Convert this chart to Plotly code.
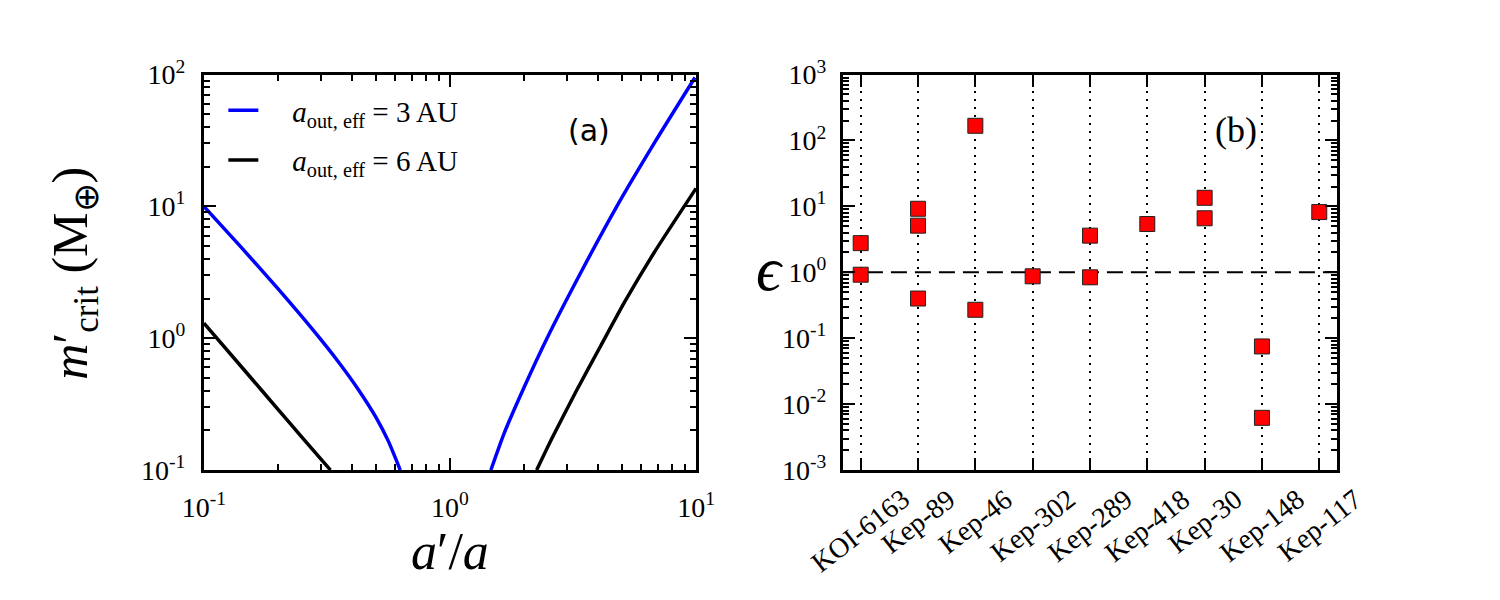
import plotly.graph_objects as go

# ---------------- data: panel (a) ----------------
blue_low_x = [0.10, 0.1413, 0.1995, 0.2818, 0.3548, 0.4266, 0.5012, 0.5623, 0.628]
blue_low_y = [10.0, 4.93, 2.385, 1.116, 0.649, 0.402, 0.250, 0.165, 0.10]
blue_high_x = [1.466, 1.66, 2.01, 2.48, 3.39, 4.74, 6.83, 9.9]
blue_high_y = [0.10, 0.19, 0.432, 1.0, 3.11, 9.84, 31.1, 95.0]

black_low_x = [0.10, 0.15, 0.20, 0.25, 0.327]
black_low_y = [1.30, 0.54, 0.289, 0.178, 0.10]
black_high_x = [2.25, 2.60, 3.26, 4.10, 5.14, 6.76, 10.0]
black_high_y = [0.10, 0.175, 0.398, 0.877, 1.90, 4.47, 13.7]

legend_labels = ["\u2002\u2002<i>a</i><sub>out, eff</sub> = 3 AU",
                 "\u2002\u2002<i>a</i><sub>out, eff</sub> = 6 AU"]

# ---------------- data: panel (b) ----------------
systems = ["KOI-6163", "Kep-89", "Kep-46", "Kep-302", "Kep-289",
           "Kep-418", "Kep-30", "Kep-148", "Kep-117"]
pt_system = ["KOI-6163", "KOI-6163", "Kep-89", "Kep-89", "Kep-89",
             "Kep-46", "Kep-46", "Kep-302", "Kep-289", "Kep-289",
             "Kep-418", "Kep-30", "Kep-30", "Kep-148", "Kep-148", "Kep-117"]
pt_eps = [2.77, 0.92, 9.2, 5.1, 0.40,
          167.0, 0.27, 0.87, 3.6, 0.84,
          5.4, 13.5, 6.6, 0.075, 0.0062, 8.2]

x_ticks_a = [0.1, 1, 10]
x_ticktext_a = ["10<sup>-1</sup>", "10<sup>0</sup>", "10<sup>1</sup>"]
y_ticks_a = [0.1, 1, 10, 100]
y_ticktext_a = ["10<sup>-1</sup>", "10<sup>0</sup>", "10<sup>1</sup>", "10<sup>2</sup>"]
y_ticks_b = [1e-3, 1e-2, 1e-1, 1, 10, 100, 1000]
y_ticktext_b = ["10<sup>-3</sup>", "10<sup>-2</sup>", "10<sup>-1</sup>", "10<sup>0</sup>",
                "10<sup>1</sup>", "10<sup>2</sup>", "10<sup>3</sup>"]

SERIF = "Liberation Serif"
W, H = 1500, 600


def minor_vals(lo, hi):
    out = []
    for e in range(lo, hi):
        for m in range(2, 10):
            out.append(m * 10 ** e)
    return out


fig = go.Figure()

line_kw = dict(width=3.5, shape="spline", smoothing=0.6)
fig.add_trace(go.Scatter(x=blue_low_x, y=blue_low_y, mode="lines",
                         line=dict(color="#0000ff", **line_kw),
                         name=legend_labels[0], legendgroup="blue", showlegend=True,
                         xaxis="x", yaxis="y"))
fig.add_trace(go.Scatter(x=blue_high_x, y=blue_high_y, mode="lines",
                         line=dict(color="#0000ff", **line_kw),
                         name=legend_labels[0], legendgroup="blue", showlegend=False,
                         xaxis="x", yaxis="y"))
fig.add_trace(go.Scatter(x=black_low_x, y=black_low_y, mode="lines",
                         line=dict(color="black", **line_kw),
                         name=legend_labels[1], legendgroup="black", showlegend=True,
                         xaxis="x", yaxis="y"))
fig.add_trace(go.Scatter(x=black_high_x, y=black_high_y, mode="lines",
                         line=dict(color="black", **line_kw),
                         name=legend_labels[1], legendgroup="black", showlegend=False,
                         xaxis="x", yaxis="y"))

fig.add_trace(go.Scatter(x=pt_system, y=pt_eps, mode="markers",
                         marker=dict(symbol="square", size=15, color="#ff0000",
                                     line=dict(color="#222222", width=1)),
                         showlegend=False, xaxis="x2", yaxis="y2"))

common = dict(ticks="inside", ticklen=12, tickwidth=2, tickcolor="black",
              showline=True, linewidth=3, linecolor="black", mirror="allticks",
              zeroline=False, tickfont=dict(family=SERIF, size=28, color="black"))

fig.update_layout(
    width=W, height=H, margin=dict(l=0, r=0, t=0, b=0),
    paper_bgcolor="white", plot_bgcolor="white",
    xaxis=dict(type="log", domain=[187 / W, 693 / W], range=[-1, 1], anchor="y",
               tickmode="array", tickvals=x_ticks_a, ticktext=x_ticktext_a,
               showgrid=False, ticklabelstandoff=10,
               minor=dict(tickmode="array", tickvals=minor_vals(-1, 1), ticks="inside",
                          ticklen=6, tickwidth=2, tickcolor="black", showgrid=False),
               **common),
    yaxis=dict(type="log", domain=[1 - 479 / H, 1 - 59 / H], range=[-1, 2], anchor="x",
               tickmode="array", tickvals=y_ticks_a, ticktext=y_ticktext_a,
               showgrid=False, ticklabelstandoff=10,
               minor=dict(tickmode="array", tickvals=minor_vals(-1, 2), ticks="inside",
                          ticklen=6, tickwidth=2, tickcolor="black", showgrid=False),
               **common),
    xaxis2=dict(type="category", categoryorder="array", categoryarray=systems,
                domain=[844 / W, 1352 / W], range=[-0.31, 8.31], anchor="y2",
                showticklabels=False, showgrid=True, gridcolor="black",
                griddash="2px,6px", gridwidth=2, **common),
    yaxis2=dict(type="log", domain=[1 - 479 / H, 1 - 59 / H], range=[-3, 3], anchor="x2",
                tickmode="array", tickvals=y_ticks_b, ticktext=y_ticktext_b,
                showgrid=False, ticklabelstandoff=8,
                minor=dict(tickmode="array", tickvals=minor_vals(-3, 3), ticks="inside",
                           ticklen=6, tickwidth=2, tickcolor="black", showgrid=False),
                **common),
    legend=dict(x=207 / W, y=1 - 70 / H, xanchor="left", yanchor="top",
                bgcolor="rgba(0,0,0,0)", font=dict(family=SERIF, size=29, color="black"),
                traceorder="grouped", tracegroupgap=9),
    showlegend=True,
)

# dashed reference line at epsilon = 1
fig.add_shape(type="line", xref="x2 domain", yref="y2", x0=0, x1=1, y0=1, y1=1,
              line=dict(color="black", width=2, dash="16px,8px"), layer="below")

ann = []
ann.append(dict(text="<i>m</i>′<sub>crit</sub> (M<sub>⊕</sub>)", x=54 / W, y=1 - 270 / H,
                xref="paper", yref="paper", textangle=-90, showarrow=False,
                font=dict(family=SERIF, size=50, color="black"),
                xanchor="center", yanchor="middle"))
ann.append(dict(text="<i>a</i>′/<i>a</i>", x=440 / W, y=1 - 566 / H,
                xref="paper", yref="paper", showarrow=False,
                font=dict(family=SERIF, size=52, color="black"),
                xanchor="center", yanchor="middle"))
ann.append(dict(text="<i>ϵ</i>", x=768 / W, y=1 - 266 / H,
                xref="paper", yref="paper", showarrow=False,
                font=dict(family=SERIF, size=62, color="black"),
                xanchor="center", yanchor="middle"))
ann.append(dict(text="(a)", x=583 / W, y=1 - 118 / H, xref="paper", yref="paper",
                showarrow=False, font=dict(family="DejaVu Sans", size=30, color="black"),
                xanchor="center", yanchor="middle"))
ann.append(dict(text="(b)", x=1248 / W, y=1 - 118 / H, xref="paper", yref="paper",
                showarrow=False, font=dict(family=SERIF, size=36, color="black"),
                xanchor="center", yanchor="middle"))
for s in systems:
    ann.append(dict(text=s, x=s, xref="x2", y=1 - 490 / H, yref="paper",
                    textangle=-38, showarrow=False, xanchor="center", yanchor="top",
                    font=dict(family=SERIF, size=28, color="black")))
fig.update_layout(annotations=ann)

fig.write_html("out.html")
